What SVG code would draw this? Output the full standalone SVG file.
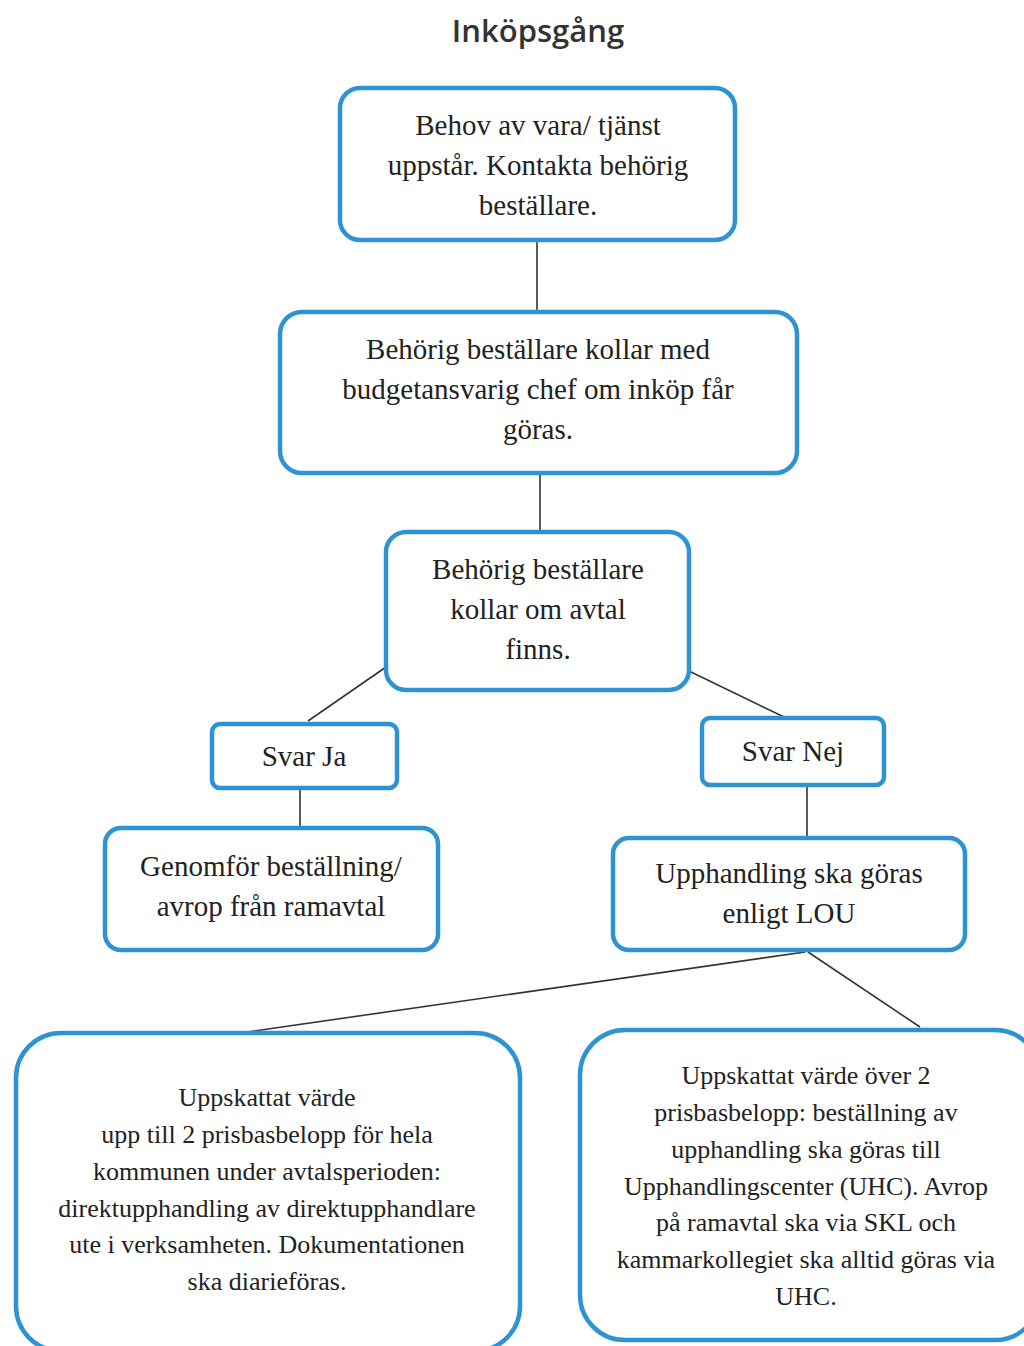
<svg xmlns="http://www.w3.org/2000/svg" width="1024" height="1346" viewBox="0 0 1024 1346">
<style>
.box{fill:#fff;stroke:#2f93d3;stroke-width:4.5}
.t{font-family:"Liberation Serif",serif;fill:#222;text-anchor:middle}
.m{font-size:29px}
.s{font-size:26px}
.c{stroke:#333;stroke-width:1.6;fill:none}
</style>
<rect width="1024" height="1346" fill="#fff"/>
<text x="538" y="42" style="font-family:'Open Sans','Liberation Sans',sans-serif;font-size:31px;font-weight:600;fill:#333;text-anchor:middle">Inköpsgång</text>
<g id="connectors">
<line class="c" x1="537" y1="240" x2="537" y2="312"/>
<line class="c" x1="540" y1="473" x2="540" y2="532"/>
<line class="c" x1="386" y1="667" x2="308" y2="721"/>
<line class="c" x1="689" y1="671" x2="784" y2="717"/>
<line class="c" x1="300" y1="788" x2="300" y2="828"/>
<line class="c" x1="807" y1="785" x2="807" y2="838"/>
<line class="c" x1="805" y1="952" x2="240" y2="1033"/>
<line class="c" x1="808" y1="952" x2="920" y2="1027"/>
</g>
<g id="n1">
<rect class="box" x="340" y="88" width="395" height="152" rx="20"/>
<text class="t m" x="538" y="135">Behov av vara/ tjänst</text>
<text class="t m" x="538" y="175">uppstår. Kontakta behörig</text>
<text class="t m" x="538" y="215">beställare.</text>
</g>
<g id="n2">
<rect class="box" x="280" y="312" width="517" height="161" rx="22"/>
<text class="t m" x="538" y="359">Behörig beställare kollar med</text>
<text class="t m" x="538" y="399">budgetansvarig chef om inköp får</text>
<text class="t m" x="538" y="439">göras.</text>
</g>
<g id="n3">
<rect class="box" x="386" y="532" width="303" height="158" rx="20"/>
<text class="t m" x="538" y="579">Behörig beställare</text>
<text class="t m" x="538" y="619">kollar om avtal</text>
<text class="t m" x="538" y="659">finns.</text>
</g>
<g id="n4">
<rect class="box" x="212" y="724" width="185" height="64" rx="8"/>
<text class="t m" x="304" y="766">Svar Ja</text>
</g>
<g id="n5">
<rect class="box" x="702" y="718" width="182" height="67" rx="8"/>
<text class="t m" x="793" y="761">Svar Nej</text>
</g>
<g id="n6">
<rect class="box" x="105" y="828" width="333" height="122" rx="16"/>
<text class="t m" x="271" y="876">Genomför beställning/</text>
<text class="t m" x="271" y="916">avrop från ramavtal</text>
</g>
<g id="n7">
<rect class="box" x="613" y="838" width="352" height="112" rx="16"/>
<text class="t m" x="789" y="883">Upphandling ska göras</text>
<text class="t m" x="789" y="923">enligt LOU</text>
</g>
<g id="n8">
<rect class="box" x="16" y="1033" width="504" height="318" rx="45"/>
<text class="t s" x="267" y="1106">Uppskattat värde</text>
<text class="t s" x="267" y="1143">upp till 2 prisbasbelopp för hela</text>
<text class="t s" x="267" y="1180">kommunen under avtalsperioden:</text>
<text class="t s" x="267" y="1217">direktupphandling av direktupphandlare</text>
<text class="t s" x="267" y="1253">ute i verksamheten. Dokumentationen</text>
<text class="t s" x="267" y="1290">ska diarieföras.</text>
</g>
<g id="n9">
<rect class="box" x="580" y="1030" width="460" height="310" rx="45"/>
<text class="t s" x="806" y="1084">Uppskattat värde över 2</text>
<text class="t s" x="806" y="1121">prisbasbelopp: beställning av</text>
<text class="t s" x="806" y="1158">upphandling ska göras till</text>
<text class="t s" x="806" y="1195">Upphandlingscenter (UHC). Avrop</text>
<text class="t s" x="806" y="1231">på ramavtal ska via SKL och</text>
<text class="t s" x="806" y="1268">kammarkollegiet ska alltid göras via</text>
<text class="t s" x="806" y="1305">UHC.</text>
</g>
</svg>
